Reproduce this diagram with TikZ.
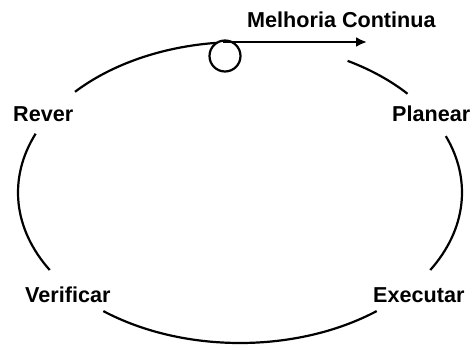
\documentclass[tikz,border=0pt]{standalone}
\usepackage{fontspec}
\setmainfont{Liberation Sans}
\usetikzlibrary{arrows.meta}
\tikzset{
  lbl/.style={anchor=base west, inner sep=0pt, font=\fontsize{21.6}{26}\selectfont\bfseries},
  cyc/.style={line width=2.2pt},
}
\begin{document}
\begin{tikzpicture}[x=1pt,y=1pt]
\useasboundingbox (0,0) rectangle (472,346);
\fill[white] (0,0) rectangle (472,346);
\coordinate (c) at (240,153.5);
% labels
\node[lbl] (mc) at (247,318) {Melhoria Continua};
\node[lbl] (pl) at (392,224) {Planear};
\node[lbl] (rv) at (13,224) {Rever};
\node[lbl] (ex) at (373,44) {Executar};
\node[lbl] (vf) at (25,43) {Verificar};
% cycle arcs
\draw[cyc] (c) ++(96:222pt and 150.5pt) arc[start angle=96, end angle=138, x radius=222pt, y radius=150.5pt];
\draw[cyc] (c) ++(157:222pt and 150.5pt) arc[start angle=157, end angle=211, x radius=222pt, y radius=150.5pt];
\draw[cyc] (c) ++(232:222pt and 150.5pt) arc[start angle=232, end angle=308, x radius=222pt, y radius=150.5pt];
\draw[cyc] (c) ++(-31:222pt and 150.5pt) arc[start angle=-31, end angle=22, x radius=222pt, y radius=150.5pt];
\draw[cyc] (c) ++(41:222pt and 150.5pt) arc[start angle=41, end angle=61, x radius=222pt, y radius=150.5pt];
% improvement arrow and wheel
\coordinate (a0) at (223,304);
\coordinate (a1) at (367,304);
\draw[cyc, -{Latex[length=11pt,width=10pt]}] (a0) -- (a1);
\node[draw, circle, line width=2.2pt, minimum size=31pt, inner sep=0pt] (wh) at (225,290) {};
\end{tikzpicture}
\end{document}
